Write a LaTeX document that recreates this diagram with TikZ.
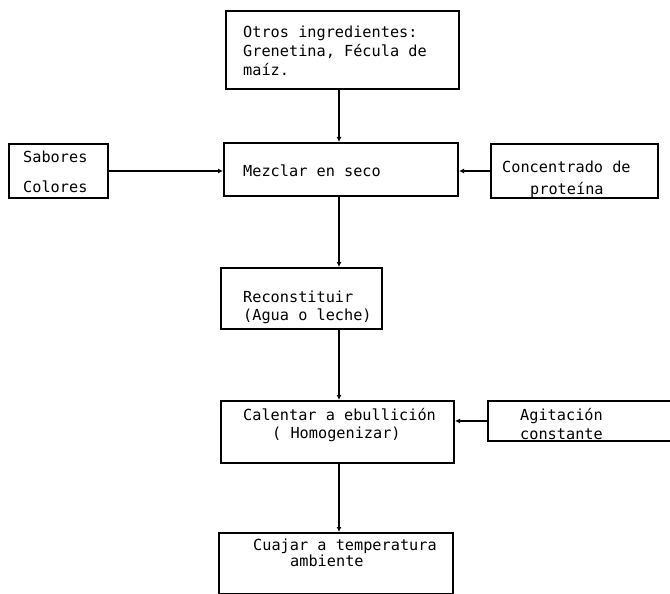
\documentclass[tikz,border=0pt]{standalone}
\usepackage{fontspec}
\newfontfamily\tw{DejaVu Sans Mono}
\usetikzlibrary{arrows.meta}
\begin{document}
\begin{tikzpicture}[x=1bp,y=-1bp,
  box/.style={draw, line width=2bp, rectangle, inner sep=0pt, anchor=north west},
  txt/.style={font=\tw\fontsize{15.3pt}{19pt}\selectfont, inner sep=0pt, anchor=base west},
  flow/.style={line width=2bp, -{Latex[length=5bp,width=5bp]}}]
  % page frame
  \clip (0,0) rectangle (670,594);
  \fill[white] (0,0) rectangle (670,594);
  \coordinate (axis) at (339,0);

  % boxes
  \node[box, minimum width=233bp, minimum height=78bp] (top) at (225,10) {};
  \node[box, minimum width=99bp,  minimum height=54bp] (sab) at (8,143) {};
  \node[box, minimum width=234bp, minimum height=53bp] (mez) at (223,142) {};
  \node[box, minimum width=167bp, minimum height=54bp] (con) at (490,143) {};
  \node[box, minimum width=161bp, minimum height=61bp] (rec) at (220,267) {};
  \node[box, minimum width=233bp, minimum height=62bp] (cal) at (220,400) {};
  \node[box, minimum width=193bp, minimum height=40bp] (agi) at (487,400) {};
  \node[box, minimum width=234bp, minimum height=61bp] (cua) at (218,532) {};

  % texts
  \node[txt] (top1) at (243,38) {Otros ingredientes:};
  \node[txt] (top2) at (243,57) {Grenetina, Fécula de};
  \node[txt] (top3) at (243,76) {maíz.};
  \node[txt] (sab1) at (23,163) {Sabores};
  \node[txt] (sab2) at (23,193) {Colores};
  \node[txt] (mez1) at (243,177) {Mezclar en seco};
  \node[txt] (con1) at (502,173) {Concentrado de};
  \node[txt] (con2) at (530,195) {proteína};
  \node[txt] (rec1) at (243,302) {Reconstituir};
  \node[txt] (rec2) at (243,320) {(Agua o leche)};
  \node[txt] (cal1) at (243,420) {Calentar a ebullición};
  \node[txt] (cal2) at (272,438) {( Homogenizar)};
  \node[txt] (agi1) at (520,420) {Agitación};
  \node[txt] (agi2) at (520,439) {constante};
  \node[txt] (cua1) at (253,550) {Cuajar a temperatura};
  \node[txt] (cua2) at (290,566) {ambiente};

  % connectors
  \draw[flow] (top.south -| axis) -- (mez.north -| axis);
  \draw[flow] (sab.east) -- (mez.west |- sab.east);
  \draw[flow] (con.west) -- (mez.east |- con.west);
  \draw[flow] (mez.south -| axis) -- (rec.north -| axis);
  \draw[flow] (rec.south -| axis) -- (cal.north -| axis);
  \draw[flow] (agi.west) -- (cal.east |- agi.west);
  \draw[flow] (cal.south -| axis) -- (cua.north -| axis);
\end{tikzpicture}
\end{document}
